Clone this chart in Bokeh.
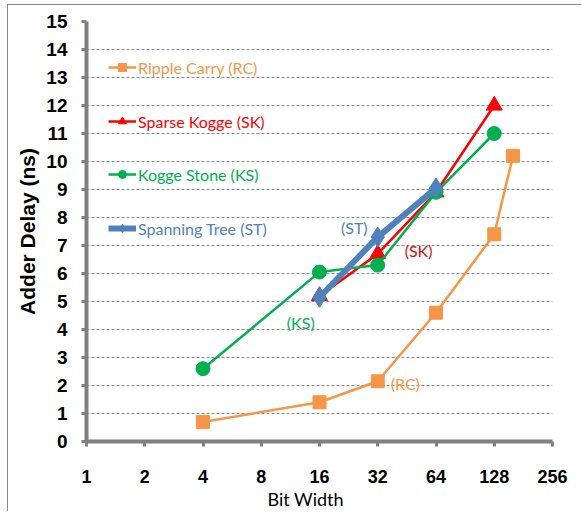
from bokeh.plotting import figure
from bokeh.models import (Range1d, FixedTicker, NumeralTickFormatter, Label,
                          Legend, LegendItem, Title)
from bokeh.embed import file_html
from bokeh.resources import INLINE

# Adder delay (ns) versus bit width
rc_bits = [4, 16, 32, 64, 128, 160]
rc_delay = [0.7, 1.4, 2.15, 4.6, 7.4, 10.2]

sk_bits = [16, 32, 64, 128]
sk_delay = [5.2, 6.7, 8.9, 12.0]

ks_bits = [4, 16, 32, 64, 128]
ks_delay = [2.6, 6.05, 6.3, 8.9, 11.0]

st_bits = [16, 32, 64]
st_delay = [5.15, 7.3, 9.05]

x_ticks = [1, 2, 4, 8, 16, 32, 64, 128, 256]
y_ticks = list(range(0, 16))

ORANGE = "#F79646"
RED = "#FF0000"
GREEN = "#00B050"
BLUE = "#4F81BD"
AXIS_GRAY = "#808080"

p = figure(width=574, height=507, x_axis_type="log",
           x_range=Range1d(1, 256), y_range=Range1d(0, 15),
           output_backend="svg", toolbar_location=None,
           min_border_left=78, min_border_right=30,
           min_border_top=16, min_border_bottom=71)
p.styles = {"border-left": "1px solid #8a8a8a", "border-top": "1px solid #8a8a8a",
            "margin-left": "7px", "margin-top": "4px"}
p.outline_line_color = None
p.border_fill_color = "white"
p.background_fill_color = "white"

# axes
p.xaxis.ticker = FixedTicker(ticks=x_ticks)
p.xaxis.formatter = NumeralTickFormatter(format="0")
p.yaxis.ticker = FixedTicker(ticks=y_ticks)
for ax in (p.xaxis, p.yaxis):
    ax.axis_line_color = AXIS_GRAY
    ax.axis_line_width = 4
    ax.major_tick_line_color = AXIS_GRAY
    ax.major_tick_line_width = 3
    ax.major_tick_in = 0
    ax.major_tick_out = 5
    ax.minor_tick_line_color = None
    ax.major_label_text_font = "Liberation Sans"
    ax.major_label_text_font_style = "bold"
    ax.major_label_text_color = "black"
p.xaxis.major_label_text_font_size = "18px"
p.yaxis.major_label_text_font_size = "19px"
p.xaxis.major_label_standoff = 23
p.yaxis.major_label_standoff = 14
p.yaxis.axis_label = "Adder Delay (ns)"
p.yaxis.axis_label_text_font = "Liberation Sans"
p.yaxis.axis_label_text_font_style = "bold"
p.yaxis.axis_label_text_font_size = "21px"
p.yaxis.axis_label_text_color = "black"
p.yaxis.axis_label_standoff = 4

p.xgrid.visible = False
p.ygrid.ticker = FixedTicker(ticks=y_ticks)
p.ygrid.grid_line_color = "#8c8c8c"
p.ygrid.grid_line_dash = "3 2"
p.ygrid.grid_line_width = 1

# x axis caption, placed a little left of the frame centre
p.add_layout(Title(text="Bit Width", align="left", offset=181,
                   text_font="Lato", text_font_size="18px",
                   text_font_style="normal", text_color="black",
                   standoff=0), "below")

# series
rc_line = p.line(rc_bits, rc_delay, line_color=ORANGE, line_width=2.5)
rc_pts = p.scatter(rc_bits, rc_delay, marker="square", size=13,
                   fill_color=ORANGE, line_color=ORANGE)

sk_line = p.line(sk_bits, sk_delay, line_color=RED, line_width=2.5)
sk_pts = p.scatter(sk_bits, sk_delay, marker="triangle", size=16,
                   fill_color=RED, line_color=RED)

ks_line = p.line(ks_bits, ks_delay, line_color=GREEN, line_width=2.5)
ks_pts = p.scatter(ks_bits, ks_delay, marker="circle", size=14,
                   fill_color=GREEN, line_color=GREEN)

st_line = p.line(st_bits, st_delay, line_color=BLUE, line_width=6)
st_pts = p.scatter(st_bits, st_delay, marker="diamond", size=20,
                   fill_color=BLUE, line_color=BLUE)

# one legend per entry so each label keeps its series colour
entries = [
    ("Ripple Carry (RC)", [rc_line, rc_pts], ORANGE, 364),
    ("Sparse Kogge (SK)", [sk_line, sk_pts], RED, 310),
    ("Kogge Stone (KS)", [ks_line, ks_pts], GREEN, 257),
    ("Spanning Tree (ST)", [st_line, st_pts], BLUE, 203),
]
for text, rends, color, ypos in entries:
    leg = Legend(items=[LegendItem(label=text, renderers=rends)],
                 location=(22, ypos), padding=0, margin=0, spacing=0,
                 glyph_width=28, glyph_height=20, label_height=20,
                 label_standoff=2, label_text_font="Lato",
                 label_text_font_size="16px", label_text_color=color,
                 background_fill_alpha=0, border_line_alpha=0)
    p.add_layout(leg)

# series tags next to the curves
tags = [
    ("(ST)", 24.2, 7.64, BLUE),
    ("(SK)", 52.0, 6.82, "#D01010"),
    ("(KS)", 12.8, 4.25, GREEN),
    ("(RC)", 44.4, 2.07, ORANGE),
]
for text, tx, ty, color in tags:
    p.add_layout(Label(x=tx, y=ty, text=text, text_align="center",
                       text_baseline="middle", text_color=color,
                       text_font="Lato", text_font_size="16px"))

open("out.html", "w").write(file_html(p, INLINE))
